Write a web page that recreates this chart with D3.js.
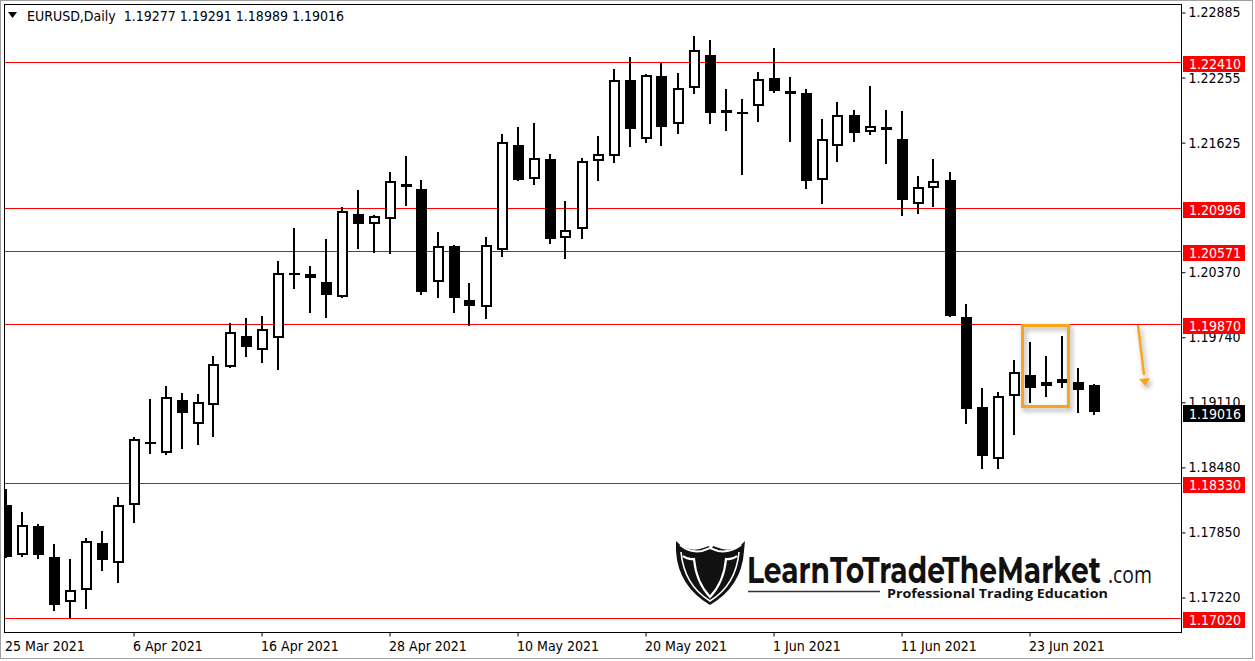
<!DOCTYPE html>
<html><head><meta charset="utf-8">
<script src="https://cdn.jsdelivr.net/npm/d3@7"></script>
<style>html,body{margin:0;padding:0;background:#fff;overflow:hidden}svg{display:block}</style>
</head><body>
<svg id="c" width="1255" height="661"></svg>
<script>
// ---- data (EURUSD Daily) ----
const dates = ["2021-03-25","2021-03-26","2021-03-29","2021-03-30","2021-03-31",
"2021-04-01","2021-04-02","2021-04-05","2021-04-06","2021-04-07","2021-04-08","2021-04-09","2021-04-12","2021-04-13","2021-04-14","2021-04-15","2021-04-16","2021-04-19","2021-04-20","2021-04-21","2021-04-22","2021-04-23","2021-04-26","2021-04-27","2021-04-28","2021-04-29","2021-04-30",
"2021-05-03","2021-05-04","2021-05-05","2021-05-06","2021-05-07","2021-05-10","2021-05-11","2021-05-12","2021-05-13","2021-05-14","2021-05-17","2021-05-18","2021-05-19","2021-05-20","2021-05-21","2021-05-24","2021-05-25","2021-05-26","2021-05-27","2021-05-28","2021-05-31",
"2021-06-01","2021-06-02","2021-06-03","2021-06-04","2021-06-07","2021-06-08","2021-06-09","2021-06-10","2021-06-11","2021-06-14","2021-06-15","2021-06-16","2021-06-17","2021-06-18","2021-06-21","2021-06-22","2021-06-23","2021-06-24","2021-06-25","2021-06-28","2021-06-29"];
const opens = [1.18112,1.17627,1.17908,1.17617,1.17172,1.17288,1.17743,1.17550,1.18112,1.18722,
1.18616,1.19129,1.18897,1.19081,1.19449,1.19750,1.19614,1.19730,1.20360,1.20312,
1.20273,1.20128,1.20932,1.20835,1.20884,1.21223,1.21174,1.20273,1.20622,1.20099,
1.20031,1.20583,1.21601,1.21271,1.21465,1.20700,1.20787,1.21446,1.21494,1.22231,
1.21659,1.22270,1.21804,1.22153,1.22473,1.21911,1.21921,1.21979,1.22250,1.22124,
1.22105,1.21262,1.21591,1.21892,1.21727,1.21775,1.21659,1.21029,1.21184,1.21262,
1.19934,1.19062,1.18558,1.19168,1.19372,1.19265,1.19294,1.19304,1.19277];
const highs = [1.18267,1.18044,1.17928,1.17734,1.17588,1.17792,1.17860,1.18189,1.18771,1.19139,
1.19265,1.19197,1.19188,1.19556,1.19876,1.19924,1.19944,1.20477,1.20797,1.20428,
1.20690,1.21000,1.21165,1.20922,1.21339,1.21494,1.21262,1.20758,1.20632,1.20263,
1.20709,1.21707,1.21775,1.21814,1.21514,1.21058,1.21475,1.21688,1.22338,1.22454,
1.22289,1.22396,1.22299,1.22657,1.22619,1.22144,1.22047,1.22308,1.22541,1.22260,
1.22144,1.21853,1.22018,1.21940,1.22173,1.21940,1.21930,1.21300,1.21465,1.21339,
1.20060,1.19246,1.19207,1.19517,1.19692,1.19556,1.19750,1.19440,1.19291];
const lows = [1.17598,1.17608,1.17588,1.17094,1.17026,1.17104,1.17472,1.17356,1.17937,1.18606,
1.18596,1.18655,1.18693,1.18771,1.19440,1.19546,1.19488,1.19420,1.20205,1.19973,
1.19924,1.20118,1.20593,1.20554,1.20544,1.21010,1.20147,1.20118,1.19973,1.19847,
1.19915,1.20515,1.21258,1.21213,1.20641,1.20496,1.20690,1.21252,1.21426,1.21582,
1.21620,1.21591,1.21707,1.22095,1.21804,1.21737,1.21310,1.21824,1.22105,1.21630,
1.21174,1.21029,1.21436,1.21630,1.21698,1.21417,1.20913,1.20932,1.21000,1.19934,
1.18897,1.18461,1.18461,1.18790,1.19100,1.19159,1.19246,1.19003,1.18989];
const closes = [1.17617,1.17918,1.17627,1.17143,1.17288,1.17763,1.17579,1.18112,1.18751,1.18703,
1.19159,1.19003,1.19110,1.19478,1.19788,1.19643,1.19818,1.20360,1.20360,1.20351,
1.20147,1.20961,1.20835,1.20913,1.21252,1.21194,1.20176,1.20622,1.20118,1.20040,
1.20632,1.21630,1.21262,1.21475,1.20690,1.20777,1.21446,1.21514,1.22231,1.21756,
1.22279,1.21775,1.22153,1.22522,1.21911,1.21940,1.21911,1.22241,1.22124,1.22095,
1.21252,1.21659,1.21892,1.21717,1.21785,1.21746,1.21068,1.21194,1.21252,1.19944,
1.19042,1.18587,1.19168,1.19401,1.19246,1.19304,1.19333,1.19226,1.19016];
const levels = [1.22410,1.20996,1.20571,1.19870,1.18330,1.17020];
const levelLabels = ["1.22410","1.20996","1.20571","1.19870","1.18330","1.17020"];
const priceTicks = [1.22885,1.22255,1.21625,1.20370,1.19740,1.19110,1.18480,1.17850,1.17220];
const priceTickLabels = ["1.22885","1.22255","1.21625","1.20370","1.19740","1.19110","1.18480","1.17850","1.17220"];
const dateTickIdx = [0,8,16,24,32,40,48,56,64];
const dateTickLabels = ["25 Mar 2021","6 Apr 2021","16 Apr 2021","28 Apr 2021","10 May 2021","20 May 2021","1 Jun 2021","11 Jun 2021","23 Jun 2021"];
const lastPrice = 1.19016, lastLabel = "1.19016";
const titleText = "EURUSD,Daily  1.19277 1.19291 1.18989 1.19016";
const boxFrom = 64, boxTo = 66;

// ---- drawing ----
const FONT = '"DejaVu Sans Condensed","Liberation Sans",Arial,sans-serif';
const svg = d3.select('#c');
const P = {l:4.5, t:4.5, r:1181.5, b:632.5};
const x = d3.scaleLinear().domain([0, dates.length-1]).range([5.5, 5.5+16*(dates.length-1)]);
const y = d3.scaleLinear().domain([1.22885,1.17220]).range([12.5,597.5]);
const ry = v => Math.round(y(v));

svg.append('rect').attr('width',1255).attr('height',661).attr('fill','#fff');
svg.append('rect').attr('x',0.5).attr('y',0.5).attr('width',1252).attr('height',658)
  .attr('fill','none').attr('stroke','#a0a0a0');

const defs = svg.append('defs');
defs.append('clipPath').attr('id','clip').append('rect')
  .attr('x',P.l).attr('y',P.t).attr('width',P.r-P.l).attr('height',P.b-P.t);
const f = defs.append('filter').attr('id','sh').attr('x','-30%').attr('y','-30%').attr('width','160%').attr('height','160%');
f.append('feDropShadow').attr('dx',2).attr('dy',3).attr('stdDeviation',2.5)
  .attr('flood-color','#000').attr('flood-opacity',0.35);

const plot = svg.append('g').attr('clip-path','url(#clip)');

// logo watermark
const logo = plot.append('g');
logo.append('path').attr('fill','#111')
  .attr('d','M676,541 Q686,552 700,549 L709,546 Q711,552 713,546 L722,549 Q736,552 745,541 L744,551 Q742,586 710,605 Q678,586 676,551 Z');
logo.append('path').attr('fill','none').attr('stroke','#fff').attr('stroke-width',2)
  .attr('d','M680,545 Q690,553 702,551 L710,548 L718,551 Q730,553 741,545');
logo.append('path').attr('fill','none').attr('stroke','#fff').attr('stroke-width',2.2)
  .attr('d','M683,556 Q688,560 694,559 Q696,582 710,597 Q724,582 726,559 Q732,560 737,556');
logo.append('path').attr('fill','none').attr('stroke','#fff').attr('stroke-width',1.6)
  .attr('d','M681,552 Q684,585 710,601 Q736,585 739,552');
function fitText(g, str, x0, y0, size, weight, target, family){
  const grp = g.append('g');
  const t = grp.append('text').attr('x',0).attr('y',0).attr('font-family',family)
    .attr('font-weight',weight).attr('font-size',size).attr('fill','#111').text(str);
  const w = t.node().getComputedTextLength() || target;
  grp.attr('transform',`translate(${x0},${y0}) scale(${target/w},1)`);
}
fitText(logo,'LearnToTradeTheMarket',747,583,37,700,354,'Montserrat,"Open Sans",Inter,sans-serif');
fitText(logo,'.com',1108,583,23,400,44,'"Open Sans",Inter,sans-serif');
logo.append('line').attr('x1',748).attr('x2',880).attr('y1',591.5).attr('y2',591.5)
  .attr('stroke','#333').attr('stroke-width',1.5);
fitText(logo,'Professional Trading Education',887,598,13,700,221,'"Open Sans",Inter,sans-serif');

// horizontal levels
plot.selectAll('line.lvl').data(levels).join('line').attr('class','lvl')
  .attr('x1',P.l).attr('x2',P.r).attr('y1',d=>ry(d)+0.5).attr('y2',d=>ry(d)+0.5)
  .attr('stroke','#ff0000').attr('stroke-width',1);

// candles
const candles = dates.map((d,i)=>({i,o:opens[i],h:highs[i],l:lows[i],c:closes[i]}));
const cg = plot.append('g');
cg.selectAll('line.wick').data(candles).join('line').attr('class','wick')
  .attr('x1',d=>Math.round(x(d.i))).attr('x2',d=>Math.round(x(d.i)))
  .attr('y1',d=>ry(d.h)).attr('y2',d=>ry(d.l)).attr('stroke','#000').attr('stroke-width',2);
cg.selectAll('rect.body').data(candles).join('rect').attr('class','body')
  .each(function(d){
    const R = Math.round(x(d.i));
    const top = ry(Math.max(d.o,d.c)), bot = ry(Math.min(d.o,d.c));
    const s = d3.select(this);
    if (d.c > d.o && bot-top >= 3) {
      s.attr('x',R-4).attr('y',top+1).attr('width',9).attr('height',Math.max(bot-top-2,1))
       .attr('fill','#fff').attr('stroke','#000').attr('stroke-width',2);
    } else {
      const h = Math.max(bot-top,2);
      s.attr('x',R-5).attr('y',top).attr('width',11).attr('height',h)
       .attr('fill','#000');
    }
  });

// orange highlight box and arrow
svg.append('rect').attr('x',x(boxFrom)-7).attr('y',ry(1.19870)+1.5).attr('width',x(boxTo)-x(boxFrom)+14)
  .attr('height',ry(1.19110)-ry(1.19870)+3)
  .attr('fill','none').attr('stroke','#f7a51c').attr('stroke-width',3).attr('filter','url(#sh)');
const ag = svg.append('g').attr('filter','url(#sh)');
ag.append('line').attr('x1',1138).attr('y1',ry(1.19870)+1).attr('x2',1144).attr('y2',ry(1.19370))
  .attr('stroke','#f7a51c').attr('stroke-width',2.5);
ag.append('path').attr('fill','#f7a51c')
  .attr('d',`M1139,${ry(1.19340)} L1150,${ry(1.19350)} L1145.5,${ry(1.19270)} Z`);

// chart border
svg.append('rect').attr('x',P.l).attr('y',P.t).attr('width',P.r-P.l).attr('height',P.b-P.t)
  .attr('fill','none').attr('stroke','#000').attr('stroke-width',1);

// right price axis
const yAxis = d3.axisRight(y).tickValues(priceTicks).tickSize(4).tickPadding(3)
  .tickFormat((d,i)=>priceTickLabels[i]);
const ya = svg.append('g').attr('transform',`translate(${P.r},0)`).call(yAxis);
ya.select('.domain').remove();
ya.selectAll('.tick line').attr('stroke','#000');
ya.selectAll('.tick text').attr('font-family',FONT).attr('font-size',14).attr('fill','#000');

// bottom date axis
const xAxis = d3.axisBottom(x).tickValues(dateTickIdx).tickSize(4).tickPadding(5)
  .tickFormat((d,i)=>dateTickLabels[i]);
const xa = svg.append('g').attr('transform',`translate(0,${P.b})`).call(xAxis);
xa.select('.domain').remove();
xa.selectAll('.tick line').attr('stroke','#000');
xa.selectAll('.tick text').attr('font-family',FONT).attr('font-size',14).attr('fill','#000')
  .attr('text-anchor','start').attr('x',-1);
xa.selectAll('.tick').filter((d,i)=>i===0).select('line').remove();

// level labels on axis
const lab = svg.append('g');
levels.forEach((v,i)=>{
  const yy = ry(v);
  lab.append('rect').attr('x',1183).attr('y',yy-6).attr('width',62).attr('height',16).attr('fill','#ff0000');
  lab.append('text').attr('x',1189).attr('y',yy+7).attr('font-family',FONT).attr('font-size',14)
    .attr('fill','#fff').text(levelLabels[i]);
});
{
  const yy = ry(lastPrice);
  lab.append('rect').attr('x',1183).attr('y',yy-7).attr('width',62).attr('height',17).attr('fill','#000');
  lab.append('text').attr('x',1189).attr('y',yy+7).attr('font-family',FONT).attr('font-size',14)
    .attr('fill','#fff').text(lastLabel);
}

// title
svg.append('path').attr('d','M8,12 L17,12 L12.5,18 Z').attr('fill','#000');
svg.append('text').attr('x',27).attr('y',21).attr('font-family',FONT).attr('font-size',14)
  .attr('fill','#000').attr('xml:space','preserve').style('white-space','pre').text(titleText);
</script>
</body></html>
